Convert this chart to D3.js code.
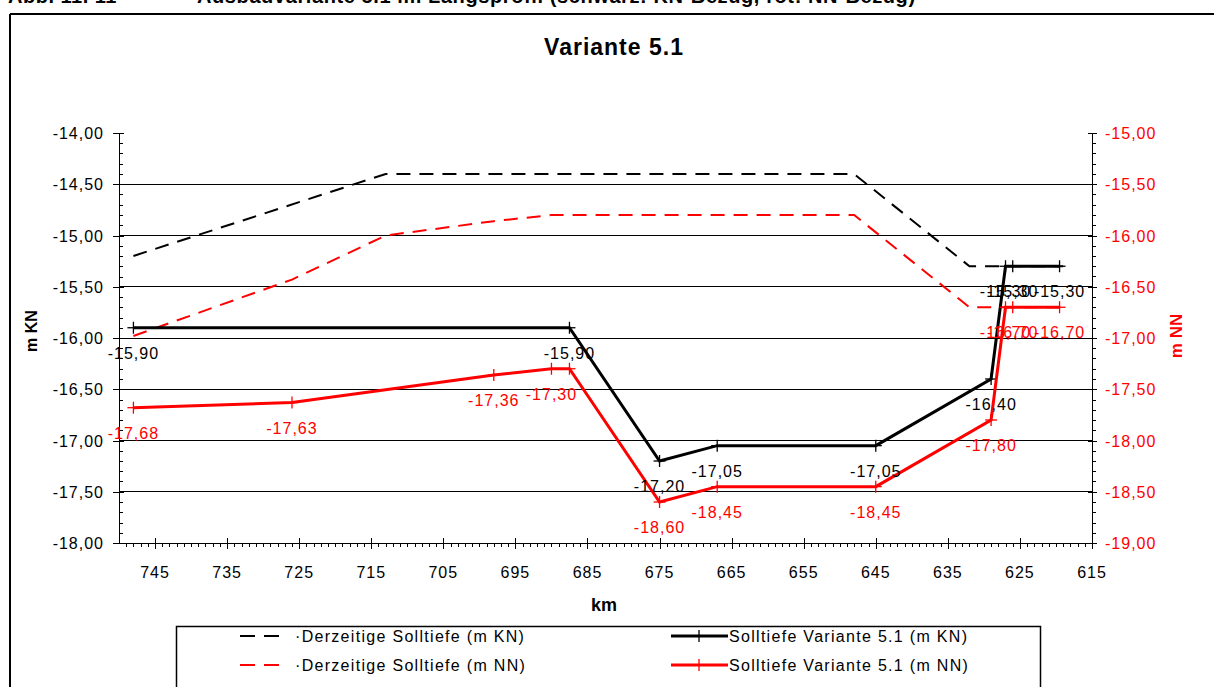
<!DOCTYPE html>
<html>
<head>
<meta charset="utf-8">
<script src="https://cdn.jsdelivr.net/npm/d3@7/dist/d3.min.js"></script>
<style>
  html, body { margin: 0; padding: 0; background: #fff; }
  svg { display: block; font-family: "Liberation Sans", Arial, sans-serif; }
</style>
</head>
<body>
<svg id="chart" width="1214" height="687"></svg>
<script>
// Longitudinal profile, km along the river, depths in m KN (left) and m NN (right)
const kmCurrentKN = [748, 713, 648, 632, 619];
const currentKN   = [-15.20, -14.40, -14.40, -15.30, -15.30];

const kmCurrentNN = [748, 726, 713, 698, 690, 648, 632, 619];
const currentNN   = [-16.98, -16.43, -16.00, -15.86, -15.80, -15.80, -16.70, -16.70];

const kmVariantKN = [748, 687.5, 675, 667, 645, 629, 627, 626, 619.5];
const variantKN   = [-15.90, -15.90, -17.20, -17.05, -17.05, -16.40, -15.30, -15.30, -15.30];

const kmVariantNN = [748, 726, 698, 690, 687.5, 675, 667, 645, 629, 627, 626, 619.5];
const variantNN   = [-17.68, -17.63, -17.36, -17.30, -17.30, -18.60, -18.45, -18.45, -17.80, -16.70, -16.70, -16.70];
const variantNNLabelled = [true, true, true, true, false, true, true, true, true, true, true, true];

const kmTicks      = [745, 735, 725, 715, 705, 695, 685, 675, 665, 655, 645, 635, 625, 615];
const leftTicks    = [-14, -14.5, -15, -15.5, -16, -16.5, -17, -17.5, -18];
const rightTicks   = [-15, -15.5, -16, -16.5, -17, -17.5, -18, -18.5, -19];

const chartTitle = "Variante 5.1";
const headerLeft = "Abb. 11. 11";
const headerText = "Ausbauvariante 5.1 im Längsprofil (schwarz: KN-Bezug, rot: NN-Bezug)";
const legendLabels = [
  "·Derzeitige Solltiefe (m KN)",
  "·Derzeitige Solltiefe (m NN)",
  "Solltiefe Variante 5.1 (m KN)",
  "Solltiefe Variante 5.1 (m NN)"
];

const RED = "#ff0000";
const svg = d3.select("#chart");

const x  = d3.scaleLinear().domain([750, 615]).range([119, 1092]);
const yL = d3.scaleLinear().domain([-18, -14]).range([543, 133]);
const yR = d3.scaleLinear().domain([-19, -15]).range([543, 133]);
const fmt = v => d3.format(".2f")(v).replace(".", ",").replace("\u2212", "-");

// header line above the frame (partly cut off at the top edge)
svg.append("text").attr("x", 8).attr("y", 3)
  .attr("font-size", 20).attr("font-weight", "bold").attr("letter-spacing", 0.5).text(headerLeft);
svg.append("text").attr("x", 197).attr("y", 3)
  .attr("font-size", 20).attr("font-weight", "bold").attr("letter-spacing", 0.6).text(headerText);

// frame
svg.append("line").attr("x1", 10).attr("x2", 1214).attr("y1", 14).attr("y2", 14)
  .attr("stroke", "#000").attr("stroke-width", 2);
svg.append("line").attr("x1", 10).attr("x2", 10).attr("y1", 14).attr("y2", 687)
  .attr("stroke", "#000").attr("stroke-width", 2);

// title
svg.append("text").attr("x", 614).attr("y", 55).attr("text-anchor", "middle")
  .attr("font-size", 23).attr("font-weight", "bold").attr("letter-spacing", 1)
  .text(chartTitle);

// horizontal grid lines
svg.append("g").selectAll("line").data(leftTicks.filter(v => v > -18 && v < -14)).join("line")
  .attr("x1", x.range()[0]).attr("x2", x.range()[1])
  .attr("y1", d => yL(d)).attr("y2", d => yL(d))
  .attr("stroke", "#000").attr("stroke-width", 1).attr("shape-rendering", "crispEdges");

// left axis
const gL = svg.append("g");
gL.append("line").attr("x1", 119).attr("x2", 119).attr("y1", 133).attr("y2", 543)
  .attr("stroke", "#000").attr("shape-rendering", "crispEdges");
gL.selectAll(".minor").data(d3.range(-18, -13.95, 0.1)).join("line")
  .attr("x1", 119).attr("x2", 123).attr("y1", d => Math.round(yL(d)) + 0.5).attr("y2", d => Math.round(yL(d)) + 0.5)
  .attr("stroke", "#000");
gL.selectAll(".major").data(leftTicks).join("line")
  .attr("x1", 113).attr("x2", 124).attr("y1", d => Math.round(yL(d)) + 0.5).attr("y2", d => Math.round(yL(d)) + 0.5)
  .attr("stroke", "#000");
gL.selectAll("text").data(leftTicks).join("text")
  .attr("x", 104).attr("y", d => yL(d) + 6).attr("text-anchor", "end")
  .attr("font-size", 16).attr("letter-spacing", 1)
  .text(fmt);

// right axis
const gR = svg.append("g");
gR.append("line").attr("x1", 1092).attr("x2", 1092).attr("y1", 133).attr("y2", 543)
  .attr("stroke", "#000").attr("shape-rendering", "crispEdges");
gR.selectAll(".minor").data(d3.range(-19, -14.95, 0.1)).join("line")
  .attr("x1", 1092).attr("x2", 1096).attr("y1", d => Math.round(yR(d)) + 0.5).attr("y2", d => Math.round(yR(d)) + 0.5)
  .attr("stroke", "#000");
gR.selectAll(".major").data(rightTicks).join("line")
  .attr("x1", 1088).attr("x2", 1097).attr("y1", d => Math.round(yR(d)) + 0.5).attr("y2", d => Math.round(yR(d)) + 0.5)
  .attr("stroke", "#000");
gR.selectAll("text").data(rightTicks).join("text")
  .attr("x", 1105).attr("y", d => yR(d) + 6).attr("fill", RED)
  .attr("font-size", 16).attr("letter-spacing", 1)
  .text(fmt);

// bottom axis
const gX = svg.append("g");
gX.append("line").attr("x1", 119).attr("x2", 1092).attr("y1", 543.5).attr("y2", 543.5)
  .attr("stroke", "#000");
gX.selectAll(".minor").data(d3.range(615, 750, 1)).join("line")
  .attr("x1", d => Math.round(x(d)) + 0.5).attr("x2", d => Math.round(x(d)) + 0.5)
  .attr("y1", 543).attr("y2", 547).attr("stroke", "#000");
gX.selectAll(".major").data(kmTicks).join("line")
  .attr("x1", d => Math.round(x(d)) + 0.5).attr("x2", d => Math.round(x(d)) + 0.5)
  .attr("y1", 538).attr("y2", 549).attr("stroke", "#000");
gX.selectAll("text").data(kmTicks).join("text")
  .attr("x", d => x(d)).attr("y", 578).attr("text-anchor", "middle")
  .attr("font-size", 16).attr("letter-spacing", 1)
  .text(d => d);

// axis titles
svg.append("text").attr("transform", "translate(37,331) rotate(-90)")
  .attr("text-anchor", "middle").attr("font-size", 16).attr("font-weight", "bold")
  .text("m KN");
svg.append("text").attr("transform", "translate(1182,336) rotate(-90)")
  .attr("text-anchor", "middle").attr("font-size", 17).attr("font-weight", "bold")
  .attr("fill", RED).text("m NN");
svg.append("text").attr("x", 604).attr("y", 611).attr("text-anchor", "middle")
  .attr("font-size", 18).attr("font-weight", "bold").text("km");

// series
const pts = (kms, vals) => kms.map((k, i) => [k, vals[i]]);
const lineL = d3.line().x(d => x(d[0])).y(d => yL(d[1]));
const lineR = d3.line().x(d => x(d[0])).y(d => yR(d[1]));

svg.append("path").attr("d", lineL(pts(kmCurrentKN, currentKN)))
  .attr("fill", "none").attr("stroke", "#000").attr("stroke-width", 2)
  .attr("stroke-dasharray", "14,9");
svg.append("path").attr("d", lineR(pts(kmCurrentNN, currentNN)))
  .attr("fill", "none").attr("stroke", RED).attr("stroke-width", 2)
  .attr("stroke-dasharray", "14,9");

function crosses(data, xs, ys, color) {
  const g = svg.append("g").attr("stroke", color).attr("stroke-width", 1.3);
  g.selectAll(".h").data(data).join("line")
    .attr("x1", d => xs(d[0]) - 6).attr("x2", d => xs(d[0]) + 6)
    .attr("y1", d => ys(d[1])).attr("y2", d => ys(d[1]));
  g.selectAll(".v").data(data).join("line")
    .attr("x1", d => xs(d[0])).attr("x2", d => xs(d[0]))
    .attr("y1", d => ys(d[1]) - 6).attr("y2", d => ys(d[1]) + 6);
}

const dKN = pts(kmVariantKN, variantKN);
const dNN = pts(kmVariantNN, variantNN);

svg.append("path").attr("d", lineL(dKN))
  .attr("fill", "none").attr("stroke", "#000").attr("stroke-width", 3).attr("stroke-linejoin", "miter");
crosses(dKN, x, yL, "#000");
svg.append("path").attr("d", lineR(dNN))
  .attr("fill", "none").attr("stroke", RED).attr("stroke-width", 3).attr("stroke-linejoin", "miter");
crosses(dNN, x, yR, RED);

// value labels under the points
svg.append("g").selectAll("text").data(dKN).join("text")
  .attr("x", d => x(d[0])).attr("y", d => yL(d[1]) + 31).attr("text-anchor", "middle")
  .attr("font-size", 16).attr("letter-spacing", 1).attr("fill", "#000")
  .text(d => fmt(d[1]));
svg.append("g").selectAll("text").data(dNN.filter((d, i) => variantNNLabelled[i])).join("text")
  .attr("x", d => x(d[0])).attr("y", d => yR(d[1]) + 31).attr("text-anchor", "middle")
  .attr("font-size", 16).attr("letter-spacing", 1).attr("fill", RED)
  .text(d => fmt(d[1]));

// legend
const lg = svg.append("g");
lg.append("rect").attr("x", 176.5).attr("y", 626.5).attr("width", 864).attr("height", 80)
  .attr("fill", "#fff").attr("stroke", "#000").attr("stroke-width", 1.5);
const rows = [636, 665];
// dashed keys
[["#000", rows[0]], [RED, rows[1]]].forEach(([c, y]) => {
  lg.append("line").attr("x1", 240).attr("x2", 279).attr("y1", y).attr("y2", y)
    .attr("stroke", c).attr("stroke-width", 2).attr("stroke-dasharray", "15,9");
});
// solid keys with cross marker
[["#000", rows[0]], [RED, rows[1]]].forEach(([c, y]) => {
  lg.append("line").attr("x1", 671).attr("x2", 728).attr("y1", y).attr("y2", y)
    .attr("stroke", c).attr("stroke-width", 3);
  lg.append("line").attr("x1", 693).attr("x2", 705).attr("y1", y).attr("y2", y)
    .attr("stroke", c).attr("stroke-width", 1.3);
  lg.append("line").attr("x1", 699).attr("x2", 699).attr("y1", y - 6).attr("y2", y + 6)
    .attr("stroke", c).attr("stroke-width", 1.3);
});
const legendPos = [[295, rows[0]], [295, rows[1]], [729, rows[0]], [729, rows[1]]];
lg.selectAll("text").data(legendLabels).join("text")
  .attr("x", (d, i) => legendPos[i][0]).attr("y", (d, i) => legendPos[i][1] + 6)
  .attr("font-size", 16).attr("letter-spacing", 1.3)
  .text(d => d);
</script>
</body>
</html>
